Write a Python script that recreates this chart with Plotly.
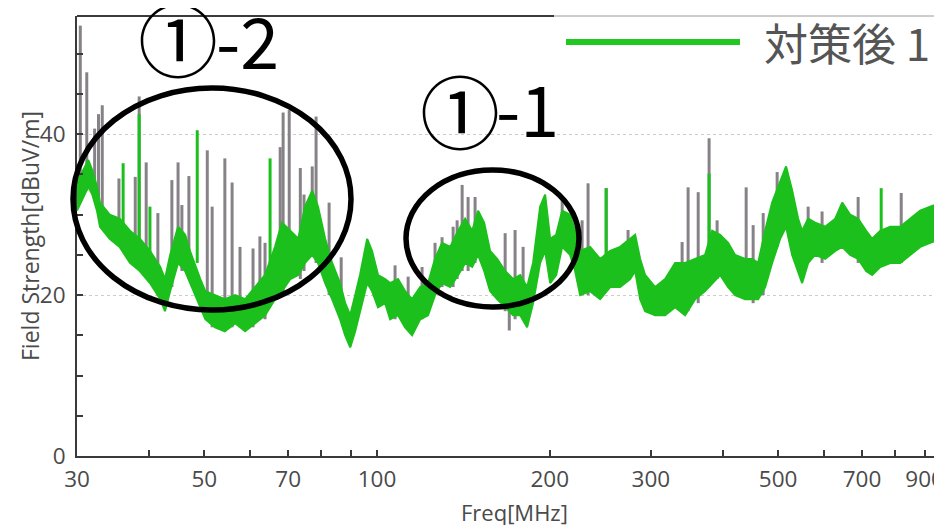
import math
import plotly.graph_objects as go

# ---------------- data ----------------
band_freq = [30.0, 30.7, 31.4, 31.9, 32.5, 32.9, 34.2, 35.6, 37.1, 38.6, 40.2, 41.9, 42.7, 43.6, 45.0,
             46.3, 47.2, 49.2, 50.2, 52.2, 54.3, 56.6, 58.9, 61.3, 63.8, 66.4, 68.3, 70.6, 72.9, 74.9,
             77.1, 78.9, 81.2, 83.5, 86.2, 88.0, 89.8, 91.6, 93.4, 96.1, 98.0, 100.4, 103.3, 105.4,
             108.8, 111.9, 115.1, 118.9, 122.7, 126.2, 129.8, 134.1, 138.5, 142.4, 146.5, 150.0,
             153.7, 157.4, 161.9, 167.2, 172.6, 177.6, 182.6, 187.0, 192.4, 196.3, 200.3, 205.2,
             210.2, 217.0, 221.4, 225.9, 235.1, 244.8, 254.8, 265.2, 276.1, 281.7, 287.4, 293.2,
             305.2, 317.7, 330.7, 344.2, 358.3, 373.0, 383.7, 396.2, 409.1, 420.7, 438.0, 450.5,
             461.5, 474.6, 488.1, 504.0, 516.2, 528.9, 541.8, 550.6, 564.0, 580.0, 603.8, 628.7,
             646.6, 667.6, 689.3, 711.8, 729.1, 753.2, 784.0, 816.1, 849.4, 884.2, 920.4, 965.0]
band_hi = [34.0, 35.5, 36.8, 35.5, 33.5, 31.5, 30.0, 29.5, 28.0, 27.0, 25.5, 23.5, 22.0, 25.0, 28.5,
           27.5, 25.5, 22.0, 20.5, 20.0, 19.5, 20.0, 19.5, 21.0, 22.5, 26.0, 29.0, 28.0, 27.0, 31.0,
           33.0, 31.0, 27.0, 24.0, 21.5, 19.0, 17.5, 20.0, 22.5, 27.0, 25.5, 22.5, 22.0, 21.5,
           22.0, 20.5, 19.5, 21.0, 21.5, 24.5, 26.5, 26.0, 28.0, 29.5, 28.0, 30.5,
           29.0, 25.5, 24.5, 23.0, 22.0, 22.5, 21.0, 24.0, 31.0, 32.5, 27.0, 27.5,
           30.5, 30.0, 28.0, 25.5, 26.0, 24.5, 25.5, 26.0, 27.0, 27.5, 24.5, 22.5,
           21.0, 22.0, 24.0, 24.0, 24.5, 25.0, 28.0, 27.5, 26.5, 25.0, 24.5, 24.5,
           24.0, 28.0, 31.5, 34.0, 36.0, 33.0, 29.5, 28.0, 29.5, 29.0, 28.5, 29.5,
           31.5, 30.0, 29.5, 28.0, 27.0, 28.0, 28.5, 28.5, 29.5, 30.5, 31.0, 31.5]
band_lo = [30.5, 32.0, 33.5, 32.5, 30.5, 28.5, 27.0, 26.0, 24.0, 23.0, 21.5, 19.5, 18.0, 20.5, 24.0,
           23.0, 21.5, 18.5, 17.0, 16.0, 15.5, 16.5, 15.5, 16.5, 17.5, 19.5, 20.5, 22.0, 22.5, 24.0,
           25.0, 24.0, 21.5, 19.5, 17.0, 15.0, 13.5, 15.5, 18.0, 21.5, 20.5, 18.5, 19.0, 17.0,
           17.5, 16.0, 15.0, 17.0, 17.5, 20.0, 21.5, 21.0, 22.5, 24.0, 23.5, 25.0,
           23.0, 20.5, 19.5, 18.5, 17.5, 17.5, 16.0, 19.0, 24.0, 25.5, 21.5, 22.5,
           26.0, 25.0, 23.0, 20.0, 20.5, 19.5, 21.0, 21.0, 22.0, 23.0, 19.5, 18.0,
           17.5, 17.5, 18.5, 17.5, 19.5, 20.5, 21.5, 22.5, 21.0, 20.0, 19.5, 19.5,
           19.5, 21.0, 24.0, 27.0, 28.5, 25.0, 23.0, 21.5, 24.0, 25.0, 24.5, 25.5,
           26.0, 25.0, 24.5, 23.0, 22.5, 23.5, 24.0, 24.0, 25.0, 26.0, 26.5, 27.0]

green_spike_freq = [36.1, 38.5, 40.2, 48.6, 65.1, 250.8, 379.0, 756.1]
green_spike_top = [36.4, 42.5, 31.0, 40.5, 37.0, 33.3, 35.1, 33.3]
green_spike_base = [27.0, 26.0, 24.0, 24.0, 24.0, 24.0, 25.0, 27.0]

gray_spike_freq = [30.4, 31.2, 32.2, 32.7, 33.2, 35.5, 37.9, 38.5, 39.6, 41.5, 43.9, 45.0, 45.7, 47.0,
                   50.6, 51.6, 54.3, 55.9, 57.7, 60.8, 62.5, 63.8, 67.8, 68.6, 70.3, 73.5, 74.6,
                   77.1, 78.3, 82.5, 86.6, 107.5, 113.3, 119.8, 126.2, 129.8, 135.7, 137.9, 140.7,
                   144.1, 148.2, 167.2, 170.0, 174.0, 179.7, 210.2, 227.7, 233.2, 250.8, 273.8,
                   340.1, 348.4, 362.8, 379.0, 391.4, 439.8, 452.3, 470.9, 498.0, 564.0, 596.4,
                   689.3, 819.3, 958.1]
gray_spike_top = [53.5, 47.7, 40.7, 42.5, 43.6, 34.5, 34.7, 44.7, 36.5, 30.2, 34.3, 36.5, 31.2, 34.8,
                  38.0, 31.0, 37.0, 34.0, 26.0, 25.8, 27.3, 26.5, 38.4, 42.7, 43.0, 35.8, 32.5,
                  36.0, 42.2, 31.5, 24.7, 23.7, 22.3, 23.5, 26.5, 27.2, 28.5, 29.3, 33.7,
                  32.2, 32.2, 27.7, 15.6, 28.1, 26.0, 31.8, 29.3, 33.9, 33.3, 28.1,
                  26.6, 33.4, 32.8, 39.5, 29.3, 33.4, 28.7, 30.2, 35.3, 31.0, 30.4,
                  32.2, 32.7, 32.0]
gray_spike_base = [32.0, 33.0, 32.0, 31.0, 30.0, 27.0, 24.0, 25.0, 23.0, 20.0, 21.0, 24.0, 23.0, 22.0,
                   17.0, 16.0, 16.0, 16.0, 16.0, 16.0, 17.0, 17.0, 20.0, 20.0, 22.0, 22.0, 23.0,
                   25.0, 24.0, 20.0, 17.0, 17.0, 16.0, 17.0, 20.0, 21.0, 21.0, 22.0, 23.0,
                   23.0, 24.0, 18.0, 19.0, 17.0, 17.0, 26.0, 20.0, 20.0, 21.0, 22.0,
                   18.0, 18.0, 19.0, 21.0, 22.0, 20.0, 19.0, 20.0, 26.0, 24.0, 24.0,
                   24.0, 24.0, 27.0]

x_tick_vals = [30, 50, 70, 100, 200, 300, 500, 700, 900]
x_tick_text = ["30", "50", "70", "100", "200", "300", "500", "700", "900"]
x_minor_vals = [40, 60, 80, 90, 400, 600, 800]
y_tick_vals = [0, 20, 40]
y_minor_vals = [5, 10, 15, 25, 30, 35, 45, 50]

x_title = "Freq[MHz]"
y_title = "Field Strength[dBuV/m]"
legend_name = "対策後 1"
circled_one = "①"
label_a_tail = "-2"
label_b_tail = "-1"

# ---------------- styling ----------------
GREEN = "#1cc01c"
GRAY = "#878287"
AX = "#3a3a3a"
TXT = "#4a4a4a"
FONT = "Open Sans"
CJK = "Noto Sans CJK JP"

# the page body has an 8px margin, so the figure is sized/placed to compensate
W, H = 934, 517
ML, MR, MT, MB = 69, 0, 8, 69
PW, PH = W - ML - MR, H - MT - MB   # 865 x 440


def px_x(px):   # absolute screen x -> paper fraction
    return (px - 77) / PW


def px_y(py):   # absolute screen y -> paper fraction
    return (456 - py) / PH


def segments(freqs, tops, bases):
    xs, ys = [], []
    for f, t, b in zip(freqs, tops, bases):
        xs += [f, f, None]
        ys += [b, t, None]
    return xs, ys


fig = go.Figure()

gx, gy = segments(gray_spike_freq, gray_spike_top, gray_spike_base)
fig.add_trace(go.Scatter(x=gx, y=gy, mode="lines", line=dict(color=GRAY, width=3),
                         showlegend=False, hoverinfo="skip", name="対策前"))
fig.add_trace(go.Scatter(x=band_freq, y=band_lo, mode="lines", line=dict(color=GREEN, width=2),
                         showlegend=False, hoverinfo="skip"))
fig.add_trace(go.Scatter(x=band_freq, y=band_hi, mode="lines", fill="tonexty", fillcolor=GREEN,
                         line=dict(color=GREEN, width=2), showlegend=False, name=legend_name))
sx, sy = segments(green_spike_freq, green_spike_top, green_spike_base)
fig.add_trace(go.Scatter(x=sx, y=sy, mode="lines", line=dict(color=GREEN, width=3),
                         showlegend=False, hoverinfo="skip"))

tickfont = dict(family=FONT, size=22.5, color=TXT)

fig.update_layout(
    width=W, height=H,
    margin=dict(l=ML, r=MR, t=MT, b=MB, autoexpand=False),
    paper_bgcolor="white", plot_bgcolor="white",
    showlegend=False,
    xaxis=dict(
        type="log", range=[math.log10(30), math.log10(965)],
        tickmode="array", tickvals=x_tick_vals, ticktext=x_tick_text,
        ticks="inside", ticklen=6, tickwidth=1.5, tickcolor=AX,
        showline=True, linecolor=AX, linewidth=2, mirror=False,
        showgrid=False, zeroline=False, tickfont=tickfont, ticklabelstandoff=2,
        ticklabeloverflow="allow",
        minor=dict(tickmode="array", tickvals=x_minor_vals, ticks="inside", ticklen=6,
                   tickwidth=1.5, tickcolor=AX, showgrid=False),
        automargin=False,
    ),
    yaxis=dict(
        range=[0, 54.7], tickmode="array", tickvals=y_tick_vals,
        ticks="inside", ticklen=6, tickwidth=1.5, tickcolor=AX,
        showline=True, linecolor=AX, linewidth=2, mirror=False,
        showgrid=True, gridcolor="#cccccc", griddash="dot", gridwidth=1,
        zeroline=False, tickfont=tickfont, ticklabelstandoff=5,
        minor=dict(tickmode="array", tickvals=y_minor_vals, ticks="inside", ticklen=6,
                   tickwidth=1.5, tickcolor=AX, showgrid=False),
        automargin=False,
    ),
)

shapes = [
    # decade grid line at 100 MHz
    dict(type="line", xref="x", yref="paper", x0=math.log10(100), x1=math.log10(100), y0=0, y1=1,
         line=dict(color="#cccccc", width=1, dash="dot"), layer="below"),
    # longer decade tick at 100 MHz
    dict(type="line", xref="x", yref="paper", x0=math.log10(100), x1=math.log10(100), y0=0,
         y1=12 / PH, line=dict(color=AX, width=1.5)),
    # top frame (partly covered by legend box in the original)
    dict(type="line", xref="paper", yref="paper", x0=0, x1=px_x(554), y0=1, y1=1,
         line=dict(color=AX, width=2)),
    dict(type="line", xref="paper", yref="paper", x0=px_x(554), x1=1, y0=1, y1=1,
         line=dict(color="#9a9a9a", width=1)),
    # legend sample line
    dict(type="line", xref="paper", yref="paper", x0=px_x(566), x1=px_x(740), y0=px_y(42),
         y1=px_y(42), line=dict(color="#22c822", width=6)),
    # highlight ellipses
    dict(type="circle", xref="paper", yref="paper", x0=px_x(73), x1=px_x(351), y0=px_y(310),
         y1=px_y(88), line=dict(color="black", width=5.5)),
    dict(type="circle", xref="paper", yref="paper", x0=px_x(406), x1=px_x(579), y0=px_y(307),
         y1=px_y(170), line=dict(color="black", width=5.5)),
]
fig.update_layout(shapes=shapes)


def label(text, x, y, size, anchor="center"):
    return dict(text=text, xref="paper", yref="paper", x=px_x(x), y=px_y(y), xanchor=anchor,
                yanchor="middle", showarrow=False, borderpad=0,
                font=dict(family=CJK, size=size, color="black"))


annotations = [
    dict(text=legend_name, xref="paper", yref="paper", x=px_x(762), y=px_y(42), xanchor="left",
         yanchor="middle", showarrow=False, font=dict(family=CJK, size=44, color="#555555")),
    label(circled_one, 178, 36, 80),
    label(label_a_tail, 215, 38, 70, anchor="left"),
    label(circled_one, 460, 107.5, 80),
    label(label_b_tail, 495, 107, 70, anchor="left"),
    dict(text=x_title, xref="paper", yref="paper", x=px_x(514), y=px_y(529), xanchor="center",
         yanchor="bottom", showarrow=False, font=dict(family=FONT, size=22, color=TXT)),
    dict(text=y_title, xref="paper", yref="paper", x=px_x(30), y=0.5, xanchor="center",
         yanchor="middle", textangle=-90, showarrow=False,
         font=dict(family=FONT, size=23, color=TXT)),
]
fig.update_layout(annotations=annotations)

fig.write_html("out.html")
